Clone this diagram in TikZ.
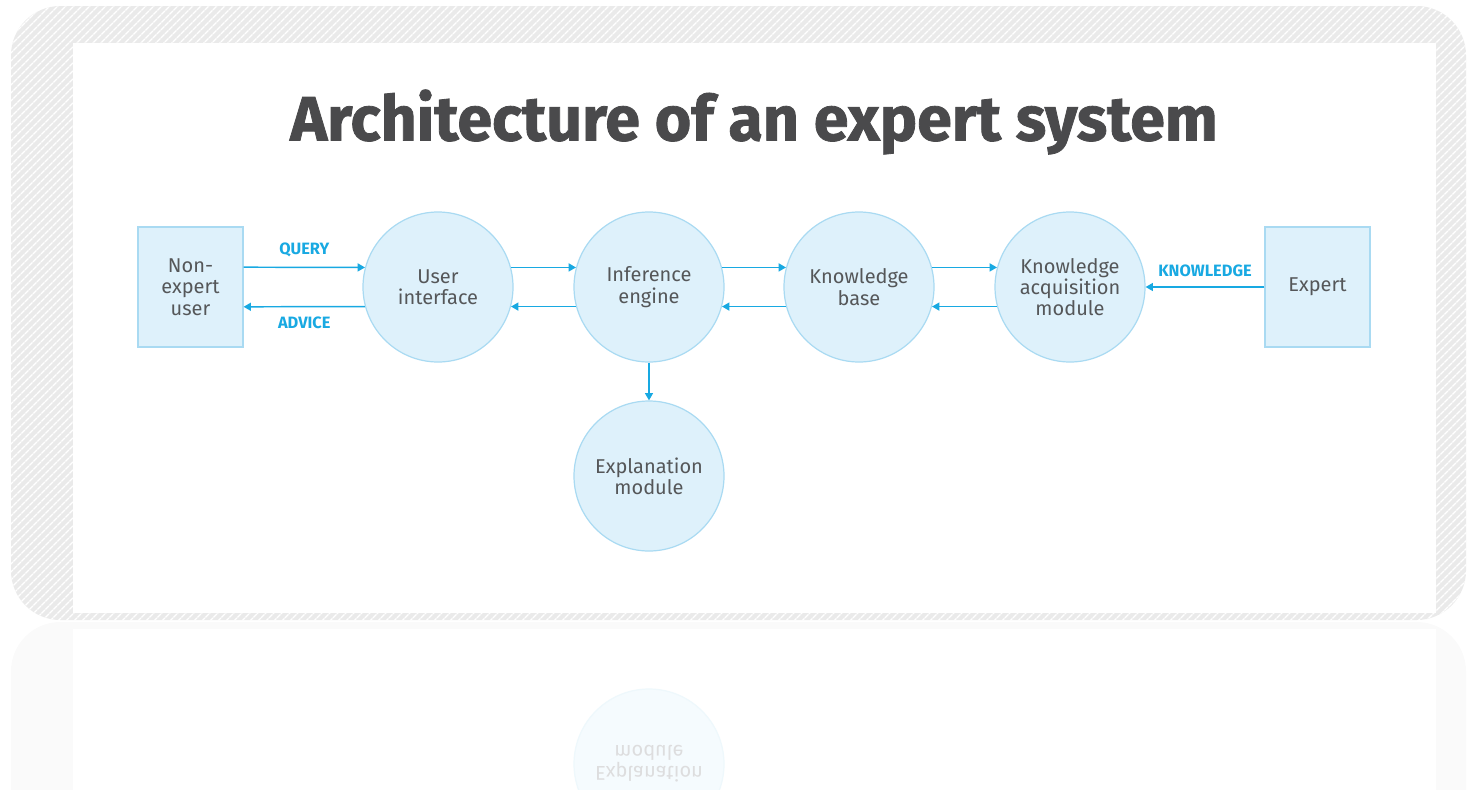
\documentclass[tikz,border=0pt]{standalone}
\usepackage{fontspec}
\setmainfont{Fira Sans}
\newfontfamily\titlefont{Fira Sans}[BoldFeatures={FakeBold=1.3}]
\usetikzlibrary{arrows.meta,patterns.meta}

\definecolor{boxfill}{HTML}{DEF1FB}
\definecolor{boxline}{HTML}{A9DAF2}
\definecolor{flowcol}{HTML}{18A9E2}
\definecolor{txtcol}{HTML}{555759}
\definecolor{titlecol}{HTML}{4A4A4C}
\definecolor{framecol}{HTML}{EAEAEA}

\begin{document}
\begin{tikzpicture}[x=0.75pt,y=-0.75pt,
    unit/.style={draw=boxline,fill=boxfill,line width=0.9pt,text=txtcol,align=center,font=\fontsize{15}{16}\selectfont},
    actor/.style={unit,rectangle,minimum width=78.75pt,minimum height=90pt,inner sep=0pt},
    module/.style={unit,circle,minimum size=112.5pt,inner sep=0pt},
    flow/.style={draw=flowcol,line width=1.1pt,-{Triangle[length=5.5pt,width=6pt]}},
    lbl/.style={text=flowcol,font=\fontsize{12.3}{12.3}\bfseries\selectfont}]
    \useasboundingbox (0,0) rectangle (1477,789);

    % hatched frame
    \fill[framecol,rounded corners=37pt] (11,6) rectangle (1466,620);
    \fill[pattern={Lines[angle=45,distance=4pt,line width=1.1pt]},pattern color=white,rounded corners=37pt] (11,6) rectangle (1466,620);
    \fill[white] (73,43) rectangle (1436,613);

    % reflection below the frame
    \begin{scope}
        \clip (0,621) rectangle (1477,789);
        \fill[framecol!25,rounded corners=37pt] (11,622) rectangle (1466,900);
        \fill[white] (73,629) rectangle (1436,900);
        \begin{scope}[shift={(649,764)},yscale=-1]
            \node[module,draw=boxline!20,fill=boxfill!30,text=txtcol!20,transform shape] (emr) at (0,0) {Explanation\\module};
        \end{scope}
    \end{scope}

    \node[text=titlecol,font=\titlefont\bfseries\fontsize{47}{47}\selectfont] (title) at (754,122) {Architecture of an expert system};

    \node[actor] (neu) at (190.5,287) {Non-\\expert\\user};
    \node[module] (ui) at (438,287) {User\\interface};
    \node[module] (ie) at (649,287) {Inference\\engine};
    \node[module] (kb) at (859,287) {Knowledge\\base};
    \node[module] (kam) at (1070,287) {Knowledge\\acquisition\\module};
    \node[actor] (ex) at (1317.5,287) {Expert};
    \node[module] (em) at (649,476) {Explanation\\module};

    \draw[flow] ([yshift=14.85pt]neu.east) -- (ui.165) node[lbl,midway,above=4pt] {QUERY};
    \draw[flow] (ui.195) -- ([yshift=-14.85pt]neu.east) node[lbl,midway,below=4pt] {ADVICE};
    \draw[flow] (ui.15) -- (ie.165);
    \draw[flow] (ie.195) -- (ui.-15);
    \draw[flow] (ie.15) -- (kb.165);
    \draw[flow] (kb.195) -- (ie.-15);
    \draw[flow] (kb.15) -- (kam.165);
    \draw[flow] (kam.195) -- (kb.-15);
    \draw[flow] (ex.west) -- (kam.east) node[lbl,midway,above=4pt] {KNOWLEDGE};
    \draw[flow] (ie.south) -- (em.north);
\end{tikzpicture}
\end{document}
